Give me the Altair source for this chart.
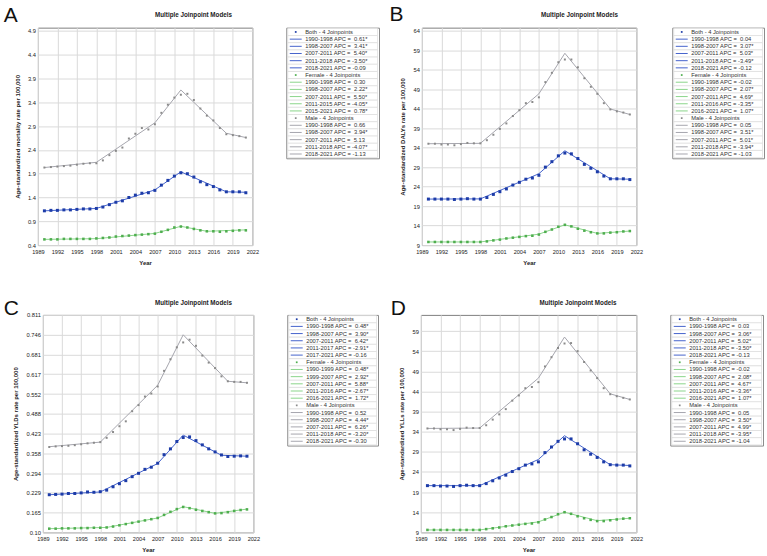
import altair as alt
import pandas as pd

FONT = "Liberation Sans"
YEARS = list(range(1990, 2022))
XTICKS = list(range(1989, 2023, 3))
SEXES = ["Both", "Female", "Male"]

# ---- observed age-standardized rates per 100,000, 1990-2021 ----
mort_both = [1.12, 1.13, 1.13, 1.14, 1.14, 1.15, 1.16, 1.16,
             1.17, 1.20, 1.25, 1.30, 1.33, 1.40, 1.45, 1.49, 1.50, 1.55,
             1.66, 1.76, 1.85, 1.92, 1.90, 1.83, 1.73, 1.67, 1.63, 1.56,
             1.52, 1.52, 1.52, 1.50]
mort_female = [0.52, 0.52, 0.52, 0.53, 0.53, 0.53, 0.53, 0.53,
               0.54, 0.55, 0.56, 0.58, 0.59, 0.60, 0.61, 0.62, 0.63, 0.64,
               0.68, 0.72, 0.77, 0.79, 0.77, 0.74, 0.71, 0.69, 0.69, 0.68,
               0.69, 0.70, 0.71, 0.71]
mort_male = [2.03, 2.04, 2.05, 2.06, 2.07, 2.09, 2.11, 2.12,
             2.12, 2.18, 2.29, 2.38, 2.45, 2.64, 2.74, 2.86, 2.83, 2.94,
             3.18, 3.35, 3.50, 3.56, 3.58, 3.45, 3.27, 3.12, 3.02, 2.86,
             2.73, 2.71, 2.69, 2.66]

daly_both = [20.8, 20.8, 20.8, 20.8, 20.7, 20.8, 20.9, 20.8,
             20.8, 21.2, 22.0, 22.7, 23.4, 24.4, 25.1, 25.9, 26.2, 26.9,
             29.0, 30.4, 31.9, 32.6, 32.4, 31.2, 29.7, 28.7, 27.8, 26.7,
             26.0, 26.0, 26.0, 25.8]
daly_female = [9.8, 9.8, 9.8, 9.8, 9.8, 9.8, 9.8, 9.8,
               9.8, 9.95, 10.2, 10.4, 10.7, 10.9, 11.1, 11.3, 11.4, 11.7,
               12.4, 13.0, 13.7, 14.2, 13.8, 13.2, 12.7, 12.3, 12.0, 12.0,
               12.2, 12.3, 12.5, 12.6]
daly_male = [35.0, 35.0, 34.8, 34.8, 34.6, 34.9, 35.2, 35.1,
             35.1, 35.9, 37.3, 38.8, 40.2, 42.1, 43.6, 45.4, 45.7, 46.9,
             50.8, 53.2, 55.9, 56.6, 56.6, 54.6, 51.8, 49.6, 47.8, 45.4,
             43.8, 43.3, 43.0, 42.5]

yld_both = [0.223, 0.224, 0.225, 0.227, 0.227, 0.229, 0.232, 0.231,
            0.233, 0.238, 0.249, 0.259, 0.269, 0.282, 0.293, 0.306, 0.313, 0.326,
            0.354, 0.373, 0.397, 0.410, 0.412, 0.400, 0.386, 0.373, 0.363, 0.353,
            0.348, 0.349, 0.350, 0.349]
yld_female = [0.112, 0.112, 0.113, 0.113, 0.113, 0.114, 0.114, 0.115,
              0.115, 0.116, 0.119, 0.123, 0.127, 0.131, 0.135, 0.139, 0.143, 0.147,
              0.157, 0.167, 0.176, 0.183, 0.179, 0.174, 0.170, 0.166, 0.162, 0.163,
              0.166, 0.170, 0.173, 0.175]
yld_male = [0.379, 0.381, 0.382, 0.383, 0.385, 0.388, 0.391, 0.393,
            0.395, 0.409, 0.428, 0.447, 0.463, 0.496, 0.516, 0.544, 0.554, 0.577,
            0.628, 0.666, 0.705, 0.721, 0.730, 0.710, 0.678, 0.655, 0.637, 0.610,
            0.594, 0.592, 0.592, 0.589]

yll_both = [20.6, 20.6, 20.5, 20.5, 20.4, 20.6, 20.7, 20.6,
            20.6, 21.1, 21.8, 22.5, 23.2, 24.1, 24.8, 25.7, 26.0, 26.5,
            28.8, 30.2, 31.6, 32.2, 32.2, 31.0, 29.5, 28.4, 27.6, 26.5,
            25.8, 25.7, 25.7, 25.5]
yll_female = [9.6, 9.6, 9.6, 9.6, 9.6, 9.6, 9.6, 9.6,
              9.6, 9.8, 10.0, 10.2, 10.5, 10.7, 10.9, 11.1, 11.2, 11.5,
              12.2, 12.8, 13.5, 14.0, 13.6, 13.0, 12.5, 12.1, 11.8, 11.8,
              12.0, 12.2, 12.4, 12.5]
yll_male = [34.8, 34.8, 34.6, 34.6, 34.4, 34.7, 35.0, 34.9,
            34.9, 35.6, 37.0, 38.3, 39.6, 41.7, 43.0, 44.8, 45.1, 46.3,
            50.2, 52.5, 54.8, 55.9, 56.0, 54.0, 51.3, 49.2, 47.3, 44.8,
            43.3, 42.8, 42.4, 42.0]

# ---- joinpoint model fits: joinpoint years and fitted values there ----
mort_both_jp = [1990, 1998, 2007, 2011, 2018, 2021]
mort_both_fit = [1.12, 1.17, 1.56, 1.94, 1.52, 1.51]
mort_female_jp = [1990, 1998, 2007, 2011, 2015, 2021]
mort_female_fit = [0.52, 0.535, 0.645, 0.795, 0.69, 0.72]
mort_male_jp = [1990, 1998, 2007, 2011, 2018, 2021]
mort_male_fit = [2.03, 2.14, 2.97, 3.66, 2.75, 2.66]

daly_both_jp = [1990, 1998, 2007, 2011, 2018, 2021]
daly_both_fit = [20.8, 20.85, 27.3, 33.2, 26.0, 25.9]
daly_female_jp = [1990, 1998, 2007, 2011, 2016, 2021]
daly_female_fit = [9.8, 9.8, 11.8, 14.2, 12.0, 12.6]
daly_male_jp = [1990, 1998, 2007, 2011, 2018, 2021]
daly_male_fit = [35.0, 35.1, 47.8, 58.2, 43.9, 42.5]

yld_both_jp = [1990, 1998, 2007, 2011, 2017, 2021]
yld_both_fit = [0.223, 0.232, 0.325, 0.418, 0.352, 0.349]
yld_female_jp = [1990, 1999, 2007, 2011, 2016, 2021]
yld_female_fit = [0.112, 0.116, 0.147, 0.184, 0.162, 0.176]
yld_male_jp = [1990, 1998, 2007, 2011, 2018, 2021]
yld_male_fit = [0.380, 0.395, 0.581, 0.746, 0.594, 0.589]

yll_both_jp = [1990, 1998, 2007, 2011, 2018, 2021]
yll_both_fit = [20.6, 20.6, 27.1, 33.0, 25.8, 25.6]
yll_female_jp = [1990, 1998, 2007, 2011, 2016, 2021]
yll_female_fit = [9.6, 9.6, 11.6, 14.0, 11.9, 12.5]
yll_male_jp = [1990, 1998, 2007, 2011, 2018, 2021]
yll_male_fit = [34.8, 34.9, 47.3, 57.5, 43.4, 42.0]

# ---- annual percent change of each segment ----
mort_both_apc = ["0.61*", "3.41*", "5.40*", "-3.50*", "-0.09"]
mort_female_apc = ["0.30", "2.22*", "5.50*", "-4.05*", "0.78*"]
mort_male_apc = ["0.66", "3.94*", "5.13", "-4.07*", "-1.13"]

daly_both_apc = ["0.04", "3.07*", "5.03*", "-3.49*", "-0.12"]
daly_female_apc = ["-0.02", "2.07*", "4.69*", "-3.35*", "1.07*"]
daly_male_apc = ["0.05", "3.51*", "5.01*", "-3.94*", "-1.03"]

yld_both_apc = ["0.48*", "3.90*", "6.42*", "-2.91*", "-0.16"]
yld_female_apc = ["0.48*", "2.92*", "5.88*", "-2.67*", "1.72*"]
yld_male_apc = ["0.52", "4.44*", "6.26*", "-3.20*", "-0.30"]

yll_both_apc = ["0.03", "3.06*", "5.02*", "-3.50*", "-0.13"]
yll_female_apc = ["-0.02", "2.08*", "4.67*", "-3.36*", "1.07*"]
yll_male_apc = ["0.05", "3.50*", "4.99*", "-3.95*", "-1.04"]

# ---- y-axis ticks ----
mort_yticks = [0.4, 0.9, 1.4, 1.9, 2.4, 2.9, 3.4, 3.9, 4.4, 4.9]
daly_yticks = [9, 14, 19, 24, 29, 34, 39, 44, 49, 54, 59, 64]
yld_yticks = [0.10, 0.165, 0.229, 0.294, 0.358, 0.423, 0.488, 0.552,
              0.617, 0.681, 0.746, 0.811]
yll_yticks = [9, 14, 19, 24, 29, 34, 39, 44, 49, 54, 59]

LINE_COLORS = ["#4563cc", "#8bd58b", "#a6a6ae"]
POINT_COLORS = ["#1d3ca8", "#4fae4f", "#8a8a8a"]
POINT_SIZES = [9, 4, 3]
GRID = "#dadada"
BORDER = "#808080"
PANEL_TITLE = "Multiple Joinpoint Models"


def long_obs(both, female, male):
    rows = []
    for sex, vals in zip(SEXES, [both, female, male]):
        rows += [{"year": y, "value": v, "sex": sex} for y, v in zip(YEARS, vals)]
    return pd.DataFrame(rows)


def long_fit(parts):
    rows = []
    for sex, (yrs, vals) in zip(SEXES, parts):
        rows += [{"year": y, "value": v, "sex": sex} for y, v in zip(yrs, vals)]
    return pd.DataFrame(rows)


def legend_rows(parts, apcs):
    rows = []
    for sex, (yrs, _), apc in zip(SEXES, parts, apcs):
        rows.append({"label": f"{sex} - 4 Joinpoints", "kind": "head", "sex": sex})
        for a, b, v in zip(yrs[:-1], yrs[1:], apc):
            pad = "" if v.startswith("-") else "\u00a0"
            rows.append({"label": f"{a}-{b} APC = {pad}{v}", "kind": "seg", "sex": sex})
    for i, r in enumerate(rows):
        r["idx"] = i
    return pd.DataFrame(rows)


def plot_panel(obs, fit, ydomain, yticks, ytitle, width, height,
               letter, letter_x, letter_y, title_x, title_y, label_expr=None):
    x = alt.X("year:Q",
              scale=alt.Scale(domain=[1989, 2022], nice=False, zero=False),
              axis=alt.Axis(values=XTICKS, format="d", title="Year",
                            grid=True, gridColor=GRID, domain=False, ticks=False,
                            labelFont=FONT, labelFontSize=5.6, labelColor="#222",
                            labelPadding=4, labelFlush=False,
                            titleFont=FONT, titleFontSize=6, titleFontWeight="bold",
                            titleColor="#222", titlePadding=5))
    yaxis = dict(values=yticks, title=ytitle, grid=True, gridColor=GRID,
                 domain=False, ticks=False, labelFont=FONT, labelFontSize=5.8,
                 labelColor="#222", labelPadding=2.5, labelFlush=False,
                 titleFont=FONT, titleFontSize=6, titleFontWeight="bold",
                 titleColor="#222", titlePadding=7)
    if label_expr:
        yaxis["labelExpr"] = label_expr
    y = alt.Y("value:Q", scale=alt.Scale(domain=ydomain, nice=False, zero=False),
              axis=alt.Axis(**yaxis))

    lines = alt.Chart(fit).mark_line(strokeWidth=1).encode(
        x=x, y=y,
        color=alt.Color("sex:N", scale=alt.Scale(domain=SEXES, range=LINE_COLORS),
                        legend=None),
        detail="sex:N",
    )
    pts = alt.Chart(obs).mark_point(filled=True, shape="square", opacity=1).encode(
        x=x, y=y,
        color=alt.Color("sex:N", scale=alt.Scale(domain=SEXES, range=POINT_COLORS),
                        legend=None),
        size=alt.Size("sex:N", scale=alt.Scale(domain=SEXES, range=POINT_SIZES),
                      legend=None),
    )
    tag = alt.Chart(pd.DataFrame({"t": [letter]})).mark_text(
        font=FONT, fontSize=21, align="left", baseline="alphabetic", color="#111"
    ).encode(text="t:N", x=alt.value(letter_x), y=alt.value(letter_y))
    head = alt.Chart(pd.DataFrame({"t": [PANEL_TITLE]})).mark_text(
        font=FONT, fontSize=6.3, fontWeight="bold", align="center",
        baseline="middle", color="#222"
    ).encode(text="t:N", x=alt.value(title_x), y=alt.value(title_y))

    return alt.layer(lines, pts, tag, head).resolve_scale(color="independent").properties(
        width=width, height=height,
        view=alt.ViewBackground(stroke=BORDER, strokeWidth=1, fill="white"),
    )


def legend_panel(df, width, height):
    ys = alt.Scale(domain=[-0.1, 18.1], reverse=True, nice=False, zero=False)
    base = alt.Chart(df).transform_calculate(
        top="datum.idx", bottom="datum.idx + 1", mid="datum.idx + 0.5")
    cells = base.mark_rect(fill="white", stroke="#d6d6d6", strokeWidth=0.6).encode(
        x=alt.value(1.5), x2=alt.value(width - 1.5),
        y=alt.Y("top:Q", scale=ys, axis=None), y2="bottom:Q")
    segs = base.transform_filter("datum.kind == 'seg'").mark_rule(strokeWidth=1).encode(
        x=alt.value(3.5), x2=alt.value(15.5),
        y=alt.Y("mid:Q", scale=ys, axis=None),
        color=alt.Color("sex:N", scale=alt.Scale(domain=SEXES, range=LINE_COLORS),
                        legend=None))
    heads = base.transform_filter("datum.kind == 'head'").mark_point(
        filled=True, shape="square", opacity=1, size=3).encode(
        x=alt.value(9.5),
        y=alt.Y("mid:Q", scale=ys, axis=None),
        color=alt.Color("sex:N", scale=alt.Scale(domain=SEXES, range=POINT_COLORS),
                        legend=None))
    texts = base.mark_text(font=FONT, fontSize=5.8, align="left", baseline="middle",
                           color="#333").encode(
        x=alt.value(19), y=alt.Y("mid:Q", scale=ys, axis=None), text="label:N")
    return alt.layer(cells, segs, heads, texts).resolve_scale(
        color="independent").properties(
        width=width, height=height,
        view=alt.ViewBackground(stroke="#8c8c8c", strokeWidth=1, fill="white"))


def gap(w):
    # empty column of a given width, used to set the distances between panels
    return alt.Chart(pd.DataFrame({"v": [0]})).mark_point(opacity=0).encode(
        x=alt.value(0), y=alt.value(0)).properties(
        width=w, height=1, view=alt.ViewBackground(stroke="transparent"))


mort_parts = [(mort_both_jp, mort_both_fit), (mort_female_jp, mort_female_fit),
              (mort_male_jp, mort_male_fit)]
daly_parts = [(daly_both_jp, daly_both_fit), (daly_female_jp, daly_female_fit),
              (daly_male_jp, daly_male_fit)]
yld_parts = [(yld_both_jp, yld_both_fit), (yld_female_jp, yld_female_fit),
             (yld_male_jp, yld_male_fit)]
yll_parts = [(yll_both_jp, yll_both_fit), (yll_female_jp, yll_female_fit),
             (yll_male_jp, yll_male_fit)]

PH = 218
LH = 131

plot_a = plot_panel(long_obs(mort_both, mort_female, mort_male), long_fit(mort_parts),
                    [0.4, 4.97], mort_yticks,
                    "Age-standardized mortality rate per 100,000", 215, PH,
                    "A", -34.2, -6, 156, -12.7)
plot_b = plot_panel(long_obs(daly_both, daly_female, daly_male), long_fit(daly_parts),
                    [9, 64.77], daly_yticks,
                    "Age-standardized DALYs rate per 100,000", 215, PH,
                    "B", -32.5, -6.5, 158, -12.7)
plot_c = plot_panel(long_obs(yld_both, yld_female, yld_male), long_fit(yld_parts),
                    [0.10, 0.811], yld_yticks,
                    "Age-standardized YLDs rate per 100,000", 211, PH,
                    "C", -39.2, 0, 151, -11.7,
                    label_expr="datum.value < 0.15 ? '0.10' : format(datum.value, '.3f')")
plot_d = plot_panel(long_obs(yll_both, yll_female, yll_male), long_fit(yll_parts),
                    [9, 63], yll_yticks,
                    "Age-standardized YLLs rate per 100,000", 216, PH,
                    "D", -30.3, 0, 157.5, -11.7)

leg_a = legend_panel(legend_rows(mort_parts, [mort_both_apc, mort_female_apc, mort_male_apc]), 93, LH)
leg_b = legend_panel(legend_rows(daly_parts, [daly_both_apc, daly_female_apc, daly_male_apc]), 92, LH)
leg_c = legend_panel(legend_rows(yld_parts, [yld_both_apc, yld_female_apc, yld_male_apc]), 91, LH)
leg_d = legend_panel(legend_rows(yll_parts, [yll_both_apc, yll_female_apc, yll_male_apc]), 93, LH)

row1 = alt.hconcat(plot_a, gap(33.5), leg_a, gap(42.5), plot_b, gap(35.5), leg_b,
                   spacing=0, bounds="flush")
row2 = alt.hconcat(gap(5), plot_c, gap(33.5), leg_c, gap(43), plot_d, gap(34), leg_d,
                   spacing=0, bounds="flush")

chart = alt.vconcat(row1, row2, spacing=30, bounds="full").properties(
    padding={"left": 3, "top": 3, "right": 2, "bottom": 2},
    background="white",
)

chart.save("out.html", embed_options={"renderer": "svg", "actions": False})
